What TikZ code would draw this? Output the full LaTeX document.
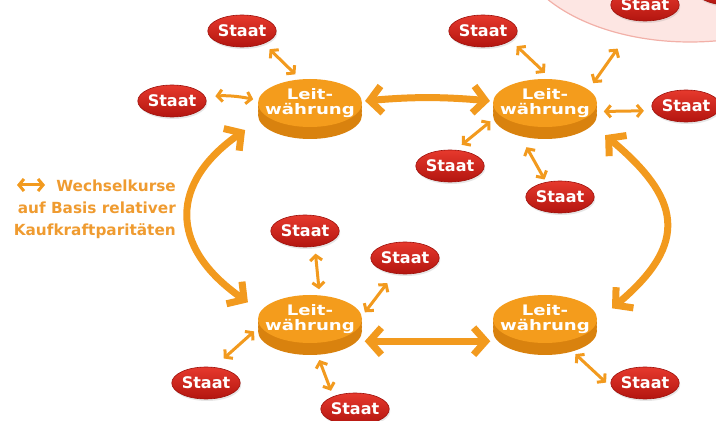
\documentclass[tikz,border=0pt]{standalone}
\usepackage{fontspec}
\usetikzlibrary{shapes.geometric, arrows.meta, shadows}
\newfontfamily\dejavu{DejaVu Sans}
\newfontfamily\dejavuwide[FakeStretch=1.25]{DejaVu Sans}
\definecolor{leitorange}{HTML}{F49C1C}
\definecolor{leitside}{HTML}{D9820E}
\definecolor{arrorange}{HTML}{F29A1E}
\definecolor{keyorange}{HTML}{EF9B30}
\definecolor{staattop}{HTML}{E6392D}
\definecolor{staatbot}{HTML}{B3150F}
\definecolor{staatedge}{HTML}{9E120C}
\definecolor{pinkfill}{HTML}{FDE6E3}
\definecolor{pinkline}{HTML}{F2B0A8}

\begin{document}
\begin{tikzpicture}[x=1pt, y=1pt,
  leit/.style={ellipse, minimum width=104pt, minimum height=48pt,
    inner xsep=-10pt, inner ysep=0pt, fill=leitorange, text=white, align=center,
    font=\dejavuwide\bfseries\fontsize{14.5}{15.5}\selectfont,
    general shadow={fill=leitside, shadow yshift=-12pt},
    general shadow={fill=leitside, shadow yshift=-8pt},
    general shadow={fill=leitside, shadow yshift=-4pt}},
  staat/.style={ellipse, minimum width=66pt, minimum height=32pt, inner sep=0pt,
    top color=staattop, bottom color=staatbot, draw=staatedge, line width=0.6pt,
    text=white, font=\dejavu\bfseries\fontsize{16}{16}\selectfont,
    drop shadow={opacity=0.2, shadow xshift=1pt, shadow yshift=-2pt}},
  group/.style={ellipse, minimum width=350pt, minimum height=204pt,
    fill=pinkfill, draw=pinkline, line width=1.2pt},
  key/.style={align=right, inner sep=0pt, text=keyorange,
    font=\dejavu\bfseries\fontsize{15.3}{22}\selectfont},
  smallarr/.style={>={Straight Barb[length=5pt, width=12pt]}, <->, line width=3pt, arrorange},
  bigarr/.style={>={Straight Barb[length=12pt, width=27pt]}, <->, line width=7pt, arrorange}]
\useasboundingbox (0,0) rectangle (716,421);
\clip (0,0) rectangle (716,421);
\node[group] (grp) at (690,481) {};
\node[staat] (sp) at (645,416) {Staat};
\node[staat] (sq) at (728,432) {};
\node[leit] (l1) at (310,318) {Leit-\\währung};
\node[leit] (l2) at (545,318) {Leit-\\währung};
\node[leit] (l3) at (310,102) {Leit-\\währung};
\node[leit] (l4) at (545,102) {Leit-\\währung};
\node[staat] (s1) at (242,390) {Staat};
\node[staat] (s2) at (172,320) {Staat};
\node[staat] (s3) at (483,390) {Staat};
\node[staat] (s4) at (686,315) {Staat};
\node[staat] (s5) at (450,255) {Staat};
\node[staat] (s6) at (560,224) {Staat};
\node[staat] (s7) at (305,190) {Staat};
\node[staat] (s8) at (405,163) {Staat};
\node[staat] (s9) at (206,38) {Staat};
\node[staat] (s10) at (355,12) {Staat};
\node[staat] (s11) at (645,38) {Staat};
\node[key, anchor=north east] (key) at (176,241.5) {Wechselkurse\\auf Basis relativer\\Kaufkraftparitäten};
\coordinate (keyl) at (17,236);
\coordinate (keyr) at (45,236);
\draw[bigarr, shorten <=3pt, shorten >=3pt] (l1.2) to[bend left=5] (l2.178);
\draw[bigarr, shorten <=34pt, shorten >=34pt] (l3.-47) -- (l4.227);
\draw[bigarr, shorten <=25pt, shorten >=15.5pt] (l1.196) to[out=215, in=145, looseness=1.5] (l3.171);
\draw[bigarr, shorten <=26pt, shorten >=19.5pt] (l2.-21) to[out=-40, in=40, looseness=1.55] (l4.-2);
\draw[smallarr, shorten <=8pt, shorten >=7pt] (s1.-30) -- (l1.112);
\draw[smallarr, shorten <=10pt, shorten >=5pt] (s2.7) to[bend left=8] (l1.177);
\draw[smallarr, shorten <=8pt, shorten >=9pt] (s3.-19) -- (l2.75);
\draw[smallarr, shorten <=34pt, shorten >=8pt] (sp.244) -- (l2.17);
\draw[smallarr, shorten <=9pt, shorten >=10pt] (s4.188) -- (l2.-10);
\draw[smallarr, shorten <=8pt, shorten >=11pt] (s5.71) -- (l2.194);
\draw[smallarr, shorten <=3pt, shorten >=29pt] (s6.133) -- (l2.210);
\draw[smallarr, shorten <=7pt, shorten >=6pt] (s7.-58) -- (l3.68);
\draw[smallarr, shorten <=12pt, shorten >=5pt] (s8.236) -- (l3.3);
\draw[smallarr, shorten <=13pt, shorten >=8pt] (s9.63) -- (l3.188);
\draw[smallarr, shorten <=6pt, shorten >=18pt] (s10.150) -- (l3.-83);
\draw[smallarr, shorten <=9pt, shorten >=18pt] (s11.190) -- (l4.-53);
\draw[smallarr] (keyl) -- (keyr);
\end{tikzpicture}
\end{document}
